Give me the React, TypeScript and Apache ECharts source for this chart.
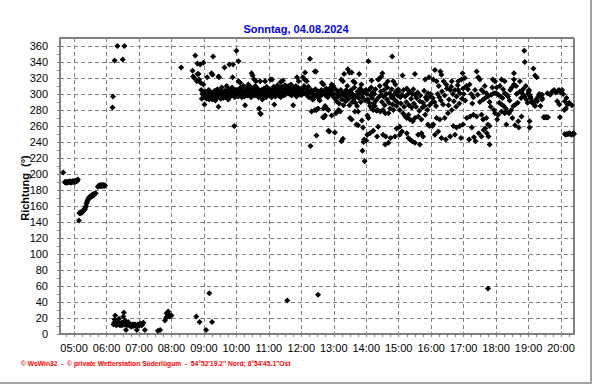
import React, { useEffect, useRef } from "react";
import * as echarts from "echarts";

const chartTitle = "Sonntag, 04.08.2024";
const yAxisTitle = "Richtung  (°)";
const footerText = "© WsWin32  -  © private Wetterstation Süderlügum  -  54°52'19.2\" Nord; 8°54'45.1\"Ost";

const xStart = 4 + 34 / 60; // 04:34
const xEnd = 20.4; // 20:24
const hourTicks = [5, 6, 7, 8, 9, 10, 11, 12, 13, 14, 15, 16, 17, 18, 19, 20];
const yMax = 370;
const yLabelStep = 20;

// [minute within hour, direction in degrees]
const h04: [number, number][] = [[40,202],[43,190],[44,189],[45,190],[46,190],[47,189],[48,190],[49,190],[51,190],[52,191],[53,190],[54,189],[55,190],[56,190],[57,191],[58,190],[59,191]];
const h05: [number, number][] = [[0,190],[1,191],[2,190],[3,191],[4,192],[5,191],[6,192],[7,193],[9,142],[10,151],[11,152],[12,151],[13,152],[14,153],[15,152],[16,153],[17,154],[18,155],[20,156],[21,158],[22,160],[23,163],[24,165],[25,167],[26,168],[27,170],[28,171],[29,170],[30,172],[31,172],[32,173],[33,172],[34,174],[35,173],[36,175],[37,174],[38,175],[40,176],[44,184],[45,185],[46,185],[47,186],[48,185],[49,186],[50,185],[51,186],[52,186],[53,185],[54,186],[55,186],[56,185],[57,186]];
const h06: [number, number][] = [[11,283],[12,297],[15,342],[20,360],[30,343],[33,360],[13,12],[14,14],[15,18],[16,23],[17,13],[18,11],[19,12],[20,14],[21,12],[22,13],[23,19],[24,12],[25,11],[26,13],[27,12],[28,14],[29,11],[30,13],[31,22],[32,27],[33,12],[34,17],[35,13],[36,5],[37,12],[38,11],[39,13],[40,15],[41,12],[42,11],[43,12],[44,10],[45,11],[46,9],[47,11],[48,12],[49,11],[50,10],[51,12],[52,11],[53,12],[54,11],[56,5],[57,11],[58,12],[59,11]];
const h07: [number, number][] = [[0,12],[1,11],[2,12],[3,13],[4,12],[5,11],[6,12],[8,14],[11,5],[35,4],[39,5],[48,17],[50,20],[51,26],[52,22],[54,28],[55,24],[57,22],[58,23]];
const h08: [number, number][] = [[0,23],[46,22],[52,15],[18,333],[39,329],[40,322],[42,320],[44,348],[47,316],[48,338],[48,325],[50,325],[51,318],[53,337],[54,314],[55,305],[56,294],[57,300],[58,303],[59,339],[59,312]];
const h09: [number, number][] = [[4,5],[10,51],[15,15],[0,300],[1,287],[2,296],[3,303],[4,298],[5,294],[6,321],[7,301],[8,297],[9,305],[10,293],[11,299],[12,296],[13,302],[14,326],[15,298],[16,324],[16,293],[17,347],[18,300],[19,296],[20,304],[21,292],[22,298],[23,301],[24,295],[25,306],[26,299],[27,322],[27,284],[28,321],[29,297],[30,303],[31,294],[32,300],[33,308],[34,297],[35,302],[36,295],[37,299],[38,333],[39,304],[40,296],[41,300],[42,310],[43,298],[44,303],[45,293],[46,306],[47,337],[48,300],[49,297],[50,304],[51,299],[52,308],[53,321],[54,337],[55,302],[56,260],[57,296],[58,305],[59,300]];
const h10: [number, number][] = [[0,354],[1,300],[2,305],[3,297],[4,341],[4,316],[5,303],[6,298],[7,314],[8,308],[9,301],[10,296],[11,304],[12,299],[13,310],[14,302],[15,297],[16,286],[17,305],[18,300],[19,307],[20,298],[21,303],[22,312],[23,299],[24,305],[25,301],[26,309],[27,296],[28,326],[29,303],[30,323],[31,300],[32,306],[33,318],[34,298],[35,310],[36,316],[37,303],[38,299],[39,307],[40,301],[41,296],[42,282],[43,304],[44,276],[44,316],[45,275],[46,299],[47,305],[48,293],[49,302],[50,298],[51,307],[52,300],[53,316],[54,303],[55,296],[56,309],[57,301],[58,298],[59,305]];
const h11: [number, number][] = [[0,302],[1,298],[2,306],[3,318],[4,300],[5,296],[6,318],[7,304],[8,299],[9,309],[10,287],[11,301],[12,297],[13,305],[14,300],[15,308],[16,311],[17,303],[18,298],[19,307],[20,305],[21,301],[22,315],[22,296],[23,304],[24,309],[25,300],[26,317],[26,306],[27,303],[28,298],[29,303],[30,311],[31,305],[32,300],[33,308],[34,42],[35,302],[36,310],[37,305],[38,300],[39,307],[40,303],[41,312],[42,298],[43,305],[44,309],[45,286],[46,301],[47,306],[48,300],[49,304],[50,310],[51,297],[52,321],[53,303],[54,308],[55,316],[56,300],[57,305],[58,299],[59,306]];
const h12: [number, number][] = [[0,304],[1,299],[2,307],[3,321],[4,302],[5,310],[6,318],[7,327],[8,300],[9,306],[10,316],[11,298],[12,303],[13,309],[14,296],[15,301],[16,344],[17,235],[18,305],[19,278],[19,295],[20,300],[21,293],[22,293],[23,304],[24,298],[25,328],[25,280],[26,306],[27,328],[28,248],[28,280],[29,300],[30,296],[31,282],[31,49],[32,303],[33,299],[34,292],[35,297],[36,301],[37,305],[38,314],[39,300],[40,271],[41,312],[41,282],[42,271],[43,304],[44,285],[44,273],[45,298],[46,307],[47,282],[48,302],[49,296],[50,280],[50,254],[51,305],[52,253],[53,300],[54,308],[55,303],[56,312],[56,273],[57,306],[58,298],[59,310]];
const h13: [number, number][] = [[0,300],[1,295],[2,252],[3,306],[4,276],[5,291],[6,300],[7,296],[8,303],[9,280],[10,288],[11,298],[12,278],[13,305],[14,318],[14,241],[15,293],[16,300],[17,316],[17,244],[18,286],[19,325],[20,302],[21,297],[22,291],[23,305],[24,299],[25,310],[26,331],[26,293],[28,302],[29,327],[29,286],[30,270],[31,297],[32,305],[33,268],[33,327],[34,290],[35,300],[36,316],[37,294],[38,308],[39,278],[39,314],[40,289],[41,298],[42,262],[43,285],[44,303],[45,261],[45,278],[46,295],[47,325],[48,300],[49,307],[50,290],[51,312],[52,305],[52,267],[53,296],[53,229],[54,258],[55,301],[55,240],[56,243],[57,216],[58,292],[59,305]];
const h14: [number, number][] = [[0,242],[1,300],[2,273],[2,249],[3,293],[4,341],[4,270],[5,305],[6,289],[7,285],[7,251],[8,298],[9,308],[10,317],[10,282],[11,295],[12,302],[13,280],[13,254],[14,288],[15,300],[16,285],[17,306],[18,292],[19,279],[20,247],[21,280],[22,259],[22,318],[23,296],[24,319],[25,310],[26,278],[27,303],[28,299],[28,322],[29,290],[30,326],[31,280],[31,249],[32,297],[33,305],[34,286],[35,276],[35,237],[35,312],[36,247],[37,300],[38,293],[39,308],[40,316],[41,276],[41,239],[42,289],[43,301],[44,282],[45,245],[46,296],[47,306],[48,347],[49,287],[50,280],[50,316],[51,299],[52,293],[53,247],[54,312],[55,303],[56,285],[56,257],[57,290],[58,298],[59,306]];
const h15: [number, number][] = [[0,303],[2,280],[2,259],[2,249],[3,296],[4,288],[6,299],[6,253],[7,323],[8,276],[9,305],[10,284],[12,297],[12,272],[14,290],[15,307],[15,270],[15,251],[17,300],[18,274],[18,245],[19,286],[20,303],[21,268],[21,243],[23,294],[24,283],[25,300],[25,241],[26,266],[27,306],[28,288],[30,299],[30,325],[30,270],[30,239],[32,284],[33,295],[35,302],[36,272],[36,249],[38,279],[39,291],[39,237],[40,298],[42,268],[42,251],[44,283],[45,289],[45,247],[47,304],[48,285],[49,318],[49,274],[50,296],[52,293],[53,280],[54,301],[54,262],[56,321],[57,260],[57,286],[58,297],[59,300]];
const h16: [number, number][] = [[1,289],[2,260],[3,295],[4,318],[4,262],[6,290],[7,330],[7,249],[9,285],[10,316],[10,270],[12,300],[13,253],[14,310],[15,296],[16,268],[17,328],[18,292],[19,324],[19,245],[20,303],[22,287],[23,316],[25,298],[25,270],[27,243],[28,312],[29,307],[31,276],[32,286],[33,293],[35,305],[35,247],[37,309],[38,316],[38,280],[40,300],[41,260],[42,291],[44,305],[44,249],[46,284],[47,297],[47,258],[49,311],[50,305],[50,316],[52,288],[53,301],[53,260],[55,245],[56,318],[57,294],[58,326],[59,307],[59,262]];
const h17: [number, number][] = [[0,300],[2,320],[3,292],[5,310],[6,270],[8,306],[10,243],[11,312],[12,272],[14,300],[15,258],[16,288],[18,296],[18,274],[19,246],[21,305],[22,241],[24,328],[24,272],[26,299],[27,321],[28,251],[30,318],[30,290],[33,305],[33,274],[33,247],[36,303],[36,293],[36,268],[37,255],[39,310],[40,295],[40,257],[42,301],[42,270],[43,251],[45,297],[45,262],[45,57],[46,247],[48,290],[48,260],[48,237],[50,284],[51,299],[53,308],[54,318],[56,301],[56,280],[58,316],[58,276]];
const h18: [number, number][] = [[0,301],[1,308],[2,268],[4,299],[4,274],[6,289],[7,310],[8,297],[10,318],[10,287],[10,278],[12,295],[13,306],[14,285],[16,316],[16,301],[16,276],[18,282],[19,262],[20,299],[20,278],[22,297],[24,276],[25,292],[26,305],[28,280],[29,308],[30,270],[32,285],[33,326],[33,318],[33,312],[35,261],[36,287],[37,310],[38,300],[40,289],[41,266],[42,258],[44,316],[44,303],[46,295],[47,272],[48,301],[50,306],[52,354],[52,297],[53,340],[55,310],[56,293],[58,289],[59,300]];
const h19: [number, number][] = [[0,303],[1,305],[2,299],[2,266],[2,258],[3,297],[4,295],[5,290],[6,291],[8,289],[9,332],[10,287],[12,323],[12,285],[14,293],[15,321],[16,291],[18,297],[20,300],[22,285],[25,299],[25,295],[25,293],[28,271],[29,271],[31,271],[33,271],[34,271],[36,271],[35,301],[40,299],[44,303],[47,305],[50,302],[53,303],[53,291],[56,305],[57,287],[58,271],[59,303]];
const h20: [number, number][] = [[0,302],[2,305],[4,300],[6,280],[7,291],[7,250],[9,282],[9,249],[10,295],[11,250],[12,287],[13,250],[15,289],[15,251],[17,250],[19,249],[20,286],[21,250],[22,250],[23,251],[24,250]];

const hourBlocks: [number, [number, number][]][] = [
  [4, h04], [5, h05], [6, h06], [7, h07], [8, h08], [9, h09], [10, h10], [11, h11],
  [12, h12], [13, h13], [14, h14], [15, h15], [16, h16], [17, h17], [18, h18], [19, h19], [20, h20],
];

const FONT = "'Liberation Sans', Arial, sans-serif";

export default function App() {
  const ref = useRef<HTMLDivElement>(null);
  useEffect(() => {
    if (!ref.current) return;
    const chart = echarts.init(ref.current, null, { renderer: "svg" });
    const points: [number, number][] = [];
    hourBlocks.forEach(([h, arr]) => arr.forEach(([m, v]) => points.push([h + m / 60, v])));
    const quarterTicks: number[] = [];
    for (let q = 19; q <= 81; q++) quarterTicks.push(q / 4);
    const yMinorTicks: number[] = [];
    for (let v = 0; v <= 360; v += 10) yMinorTicks.push(v);
    chart.setOption({
      animation: false,
      backgroundColor: "#ffffff",
      title: {
        text: chartTitle,
        left: "center",
        top: 18,
        textStyle: { color: "#0000ff", fontSize: 11, fontWeight: "bold", fontFamily: FONT },
      },
      grid: { left: 60, right: 18, top: 38, bottom: 50, show: true, borderColor: "#000000", borderWidth: 1, backgroundColor: "transparent" },
      xAxis: [
        {
          type: "value",
          min: xStart,
          max: xEnd,
          position: "bottom",
          axisLine: { show: true, onZero: false, lineStyle: { color: "#808080", width: 2 } },
          axisTick: { show: false, customValues: hourTicks },
          axisLabel: {
            customValues: hourTicks,
            formatter: (v: number) => `${String(Math.round(v)).padStart(2, "0")}:00`,
            color: "#000000",
            fontSize: 11,
            fontFamily: FONT,
            margin: 8,
          },
          splitLine: { show: true, lineStyle: { color: "#808080", type: [4, 3], width: 1 } },
        },
        {
          type: "value",
          min: xStart,
          max: xEnd,
          position: "bottom",
          axisLine: { show: false, onZero: false },
          axisTick: { show: true, customValues: quarterTicks, length: 3, lineStyle: { color: "#808080" } },
          axisLabel: { show: false },
          splitLine: { show: false },
        },
      ],
      yAxis: [
        {
          type: "value",
          min: 0,
          max: yMax,
          interval: yLabelStep,
          axisLine: { show: true, onZero: false, lineStyle: { color: "#808080", width: 2 } },
          axisTick: { show: false },
          axisLabel: { color: "#000000", fontSize: 11, fontFamily: FONT, margin: 12, showMaxLabel: false, formatter: (v: number) => (v > 360 ? "" : String(v)) },
          splitLine: { show: true, lineStyle: { color: "#808080", type: [4, 3], width: 1 } },
        },
        {
          type: "value",
          min: 0,
          max: yMax,
          position: "left",
          axisLine: { show: false, onZero: false },
          axisTick: { show: true, customValues: yMinorTicks, length: 3, lineStyle: { color: "#808080" } },
          axisLabel: { show: false },
          splitLine: { show: false },
        },
      ],
      graphic: [
        {
          type: "text",
          x: 25,
          y: 188,
          rotation: Math.PI / 2,
          style: { text: yAxisTitle, fill: "#000000", fontSize: 11, fontWeight: "bold", fontFamily: FONT, align: "center", verticalAlign: "middle" },
        },
        {
          type: "text",
          left: 21,
          top: 360,
          style: { text: footerText, fill: "#ff0000", fontSize: 6.7, fontWeight: "bold", fontFamily: FONT },
        },
        { type: "rect", shape: { x: 590, y: 0, width: 2, height: 384 }, style: { fill: "#a0a0a0" } },
        { type: "rect", shape: { x: 0, y: 382, width: 592, height: 2 }, style: { fill: "#a0a0a0" } },
      ],
      series: [
        {
          type: "scatter",
          xAxisIndex: 0,
          yAxisIndex: 0,
          symbol: "diamond",
          symbolSize: 6,
          itemStyle: { color: "#000000", opacity: 1 },
          data: points,
        },
      ],
    });
    return () => chart.dispose();
  }, []);
  return <div ref={ref} style={{ position: "fixed", left: 0, top: 0, width: 592, height: 384 }} />;
}
